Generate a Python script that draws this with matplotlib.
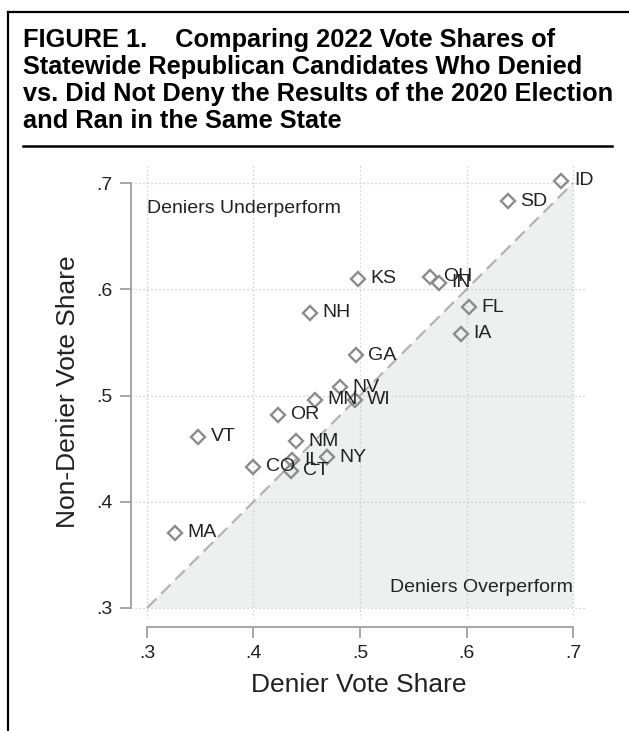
import matplotlib
matplotlib.use("Agg")
from matplotlib import pyplot as plt
from matplotlib.lines import Line2D

#Data
states = ["ID", "SD", "OH", "IN", "FL", "IA", "KS", "NH", "GA", "NV",
          "MN", "WI", "OR", "NM", "IL", "NY", "CT", "CO", "VT", "MA"]
denier = [0.689, 0.639, 0.566, 0.574, 0.602, 0.595, 0.498, 0.453, 0.496, 0.481,
          0.458, 0.495, 0.423, 0.440, 0.436, 0.469, 0.435, 0.400, 0.348, 0.326]
nondenier = [0.702, 0.683, 0.612, 0.606, 0.583, 0.558, 0.610, 0.578, 0.538, 0.508,
             0.496, 0.496, 0.482, 0.457, 0.439, 0.442, 0.429, 0.433, 0.461, 0.371]
ticks = [0.3, 0.4, 0.5, 0.6, 0.7]
tick_labels = [".3", ".4", ".5", ".6", ".7"]

title_lines = ["FIGURE 1.    Comparing 2022 Vote Shares of",
               "Statewide Republican Candidates Who Denied",
               "vs. Did Not Deny the Results of the 2020 Election",
               "and Ran in the Same State"]

plt.rcParams["font.family"] = ["Liberation Sans", "DejaVu Sans"]
txt = "#222222"
axis_gray = "#a6a6a6"

#Figure Setup
fig = plt.figure(figsize=(6.29, 7.31), dpi=100)
W, H = 629, 731

#Frame around figure (top and left edge)
fig.add_artist(Line2D([8 / W, 8 / W], [0, 1 - 12 / H], color="black", lw=1.6))
fig.add_artist(Line2D([8 / W, 1], [1 - 12 / H, 1 - 12 / H], color="black", lw=1.6))

#Title
for i, line in enumerate(title_lines):
    fig.text(23 / W, 1 - (47 + 27 * i) / H, line, fontsize=18.3, fontweight="bold",
             color="black", ha="left", va="baseline")
fig.add_artist(Line2D([23 / W, 612 / W], [1 - 146 / H, 1 - 146 / H], color="black", lw=1.8))

#Axes
ax = fig.add_axes([131 / W, (H - 619) / H, (587 - 131) / W, (619 - 165) / H])
ax.set_xlim(0.285, 0.7131)
ax.set_ylim(0.2896, 0.717)

#Shaded overperform region and diagonal
ax.fill([0.3, 0.7, 0.7], [0.3, 0.7, 0.3], color="#eef0ef", lw=0, zorder=1)
ax.plot([0.3, 0.7], [0.3, 0.7], color="#b3b3b3", lw=1.6, dashes=(6, 3), zorder=2)

#Grid
for t in ticks:
    ax.axvline(t, color="#c4c4c4", lw=0.9, ls=(0, (1, 2.2)), zorder=1.5)
    ax.axhline(t, color="#c4c4c4", lw=0.9, ls=(0, (1, 2.2)), zorder=1.5)

#Points and labels
ax.plot(denier, nondenier, ls="none", marker="D", ms=7.2, mfc="none",
        mec="#8c8c8c", mew=1.7, zorder=3)
for s, x, y in zip(states, denier, nondenier):
    ax.annotate(s, (x, y), xytext=(9, 0), textcoords="offset points",
                fontsize=14, color=txt, va="center", ha="left", zorder=4)

ax.text(0.3, 0.672, "Deniers Underperform", fontsize=14, color=txt,
        ha="left", va="baseline")
ax.text(0.7, 0.315, "Deniers Overperform", fontsize=14, color=txt,
        ha="right", va="baseline")

#Axis styling
for side in ["top", "right"]:
    ax.spines[side].set_visible(False)
ax.spines["left"].set_bounds(0.3, 0.7)
ax.spines["bottom"].set_bounds(0.3, 0.7)
ax.spines["bottom"].set_position(("outward", 5.8))
for side in ["left", "bottom"]:
    ax.spines[side].set_color(axis_gray)
    ax.spines[side].set_linewidth(1.4)
ax.set_xticks(ticks)
ax.set_xticklabels(tick_labels)
ax.set_yticks(ticks)
ax.set_yticklabels(tick_labels)
ax.tick_params(length=8, width=1.4, color=axis_gray, labelsize=14,
               labelcolor=txt, pad=5)

ax.set_xlabel("Denier Vote Share", fontsize=19, color=txt, labelpad=8)
ax.set_ylabel("Non-Denier Vote Share", fontsize=19, color=txt, labelpad=12)

#Save
fig.savefig("out.png", dpi=100)
